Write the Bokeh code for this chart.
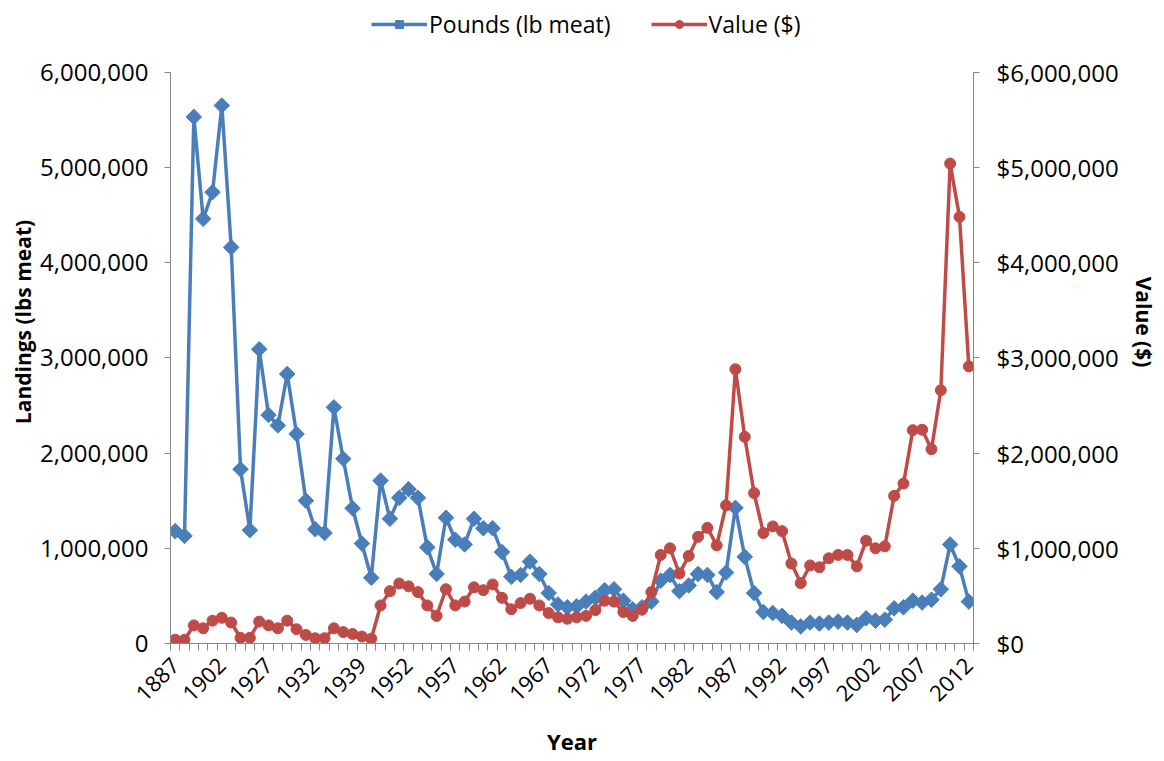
import math
from bokeh.plotting import figure
from bokeh.models import (Range1d, LinearAxis, FixedTicker, NumeralTickFormatter,
                          Legend, LegendItem, SingleIntervalTicker)
from bokeh.embed import file_html
from bokeh.resources import INLINE

years = [1887, 1888, 1889, 1890, 1897, 1902, 1904, 1908, 1919, 1924,
         1927, 1928, 1929, 1930, 1931, 1932, 1933, 1934, 1936, 1937,
         1939, 1940, 1945, 1950, 1951] + list(range(1952, 2013))

pounds = [1180000, 1130000, 5530000, 4460000, 4740000, 5650000, 4160000, 1830000, 1190000, 3090000,
          2400000, 2290000, 2830000, 2200000, 1500000, 1200000, 1160000, 2480000, 1940000, 1420000,
          1050000, 690000, 1710000, 1310000, 1530000, 1620000, 1530000, 1010000, 730000, 1320000,
          1090000, 1040000, 1310000, 1210000, 1210000, 960000, 700000, 720000, 860000, 730000,
          530000, 410000, 380000, 390000, 440000, 480000, 560000, 570000, 450000, 360000,
          380000, 440000, 660000, 720000, 550000, 610000, 730000, 720000, 540000, 745000,
          1425000, 910000, 530000, 330000, 320000, 290000, 220000, 180000, 220000, 210000,
          220000, 230000, 220000, 195000, 265000, 240000, 250000, 370000, 380000, 450000,
          430000, 460000, 570000, 1040000, 810000, 440000]

value = [40000, 40000, 190000, 160000, 240000, 270000, 220000, 60000, 60000, 230000,
         190000, 160000, 240000, 150000, 90000, 55000, 55000, 160000, 120000, 100000,
         73000, 50000, 400000, 550000, 630000, 600000, 540000, 400000, 290000, 570000,
         400000, 440000, 590000, 560000, 620000, 480000, 360000, 425000, 470000, 400000,
         320000, 275000, 260000, 275000, 290000, 350000, 450000, 440000, 330000, 290000,
         355000, 540000, 930000, 1000000, 735000, 920000, 1120000, 1215000, 1030000, 1450000,
         2880000, 2170000, 1580000, 1160000, 1230000, 1180000, 840000, 635000, 820000, 800000,
         895000, 930000, 930000, 810000, 1080000, 1000000, 1020000, 1550000, 1680000, 2240000,
         2245000, 2040000, 2660000, 5040000, 4480000, 2910000]

label_every = 5
y_max = 6000000
series_names = ["Pounds (lb meat)", "Value ($)"]
axis_titles = ["Year", "Landings (lbs meat)", "Value ($)"]

BLUE = "#4A7EBB"
RED = "#BE4B48"
GRAY = "#868686"
FONT = "Open Sans"

# frame spans the whole top area; the axes stop at y_max, the legend sits above
AXIS_PX = 574          # pixel height of 0..y_max
FRAME_PX = 646         # frame height incl. the legend strip
top = y_max * FRAME_PX / AXIS_PX

xs = list(range(len(years)))

p = figure(width=1160, height=759, output_backend="svg", toolbar_location=None,
           x_range=Range1d(-0.5, len(years) - 0.5), y_range=Range1d(0, top),
           min_border_left=170, min_border_right=187, min_border_top=0,
           min_border_bottom=759 - FRAME_PX, x_axis_type=None, y_axis_type=None)
p.outline_line_color = None
p.xgrid.visible = False
p.ygrid.visible = False
p.extra_y_ranges = {"value": Range1d(0, top)}

# x axis
xaxis = LinearAxis(
    ticker=FixedTicker(ticks=xs[::label_every],
                       minor_ticks=[i - 0.5 for i in range(len(years) + 1)]),
    major_label_overrides={i: str(years[i]) for i in xs[::label_every]},
    axis_label=axis_titles[0])
xaxis.major_label_orientation = math.pi / 4
xaxis.major_tick_out = 0
xaxis.major_tick_in = 0
xaxis.minor_tick_out = 7
xaxis.minor_tick_in = 0
xaxis.minor_tick_line_color = GRAY
xaxis.axis_line_color = GRAY
xaxis.major_label_standoff = 11
xaxis.major_label_text_font = FONT
xaxis.major_label_text_font_size = "22px"
xaxis.major_label_text_color = "#000000"
xaxis.axis_label_text_font = FONT
xaxis.axis_label_text_font_style = "bold"
xaxis.axis_label_text_font_size = "22px"
xaxis.axis_label_text_color = "#000000"
xaxis.axis_label_standoff = 15
p.add_layout(xaxis, "below")

def style_y(ax, fmt, title, lab_off, title_off):
    ax.ticker = SingleIntervalTicker(interval=1000000, num_minor_ticks=0)
    ax.formatter = NumeralTickFormatter(format=fmt)
    ax.bounds = (0, y_max)
    ax.axis_label = title
    ax.major_tick_out = 6
    ax.major_tick_in = 0
    ax.minor_tick_out = 0
    ax.minor_tick_in = 0
    ax.axis_line_color = GRAY
    ax.major_tick_line_color = GRAY
    ax.major_label_standoff = lab_off
    ax.major_label_text_font = FONT
    ax.major_label_text_font_size = "24px"
    ax.major_label_text_color = "#000000"
    ax.axis_label_text_font = FONT
    ax.axis_label_text_font_style = "bold"
    ax.axis_label_text_font_size = "21px"
    ax.axis_label_text_color = "#000000"
    ax.axis_label_standoff = title_off

yl = LinearAxis()
style_y(yl, "0,0", axis_titles[1], 16, 0)
p.add_layout(yl, "left")

yr = LinearAxis(y_range_name="value")
style_y(yr, "$0,0", axis_titles[2], 17, 8)
p.add_layout(yr, "right")

l1 = p.line(xs, pounds, line_color=BLUE, line_width=3.5)
s1 = p.scatter(xs, pounds, marker="square", angle=math.pi / 4, size=11,
               fill_color=BLUE, line_color=BLUE)
l2 = p.line(xs, value, line_color=RED, line_width=3.5, y_range_name="value")
s2 = p.scatter(xs, value, marker="circle", size=11, fill_color=RED, line_color=RED,
               y_range_name="value")

legend = Legend(items=[LegendItem(label=series_names[0], renderers=[l1, s1]),
                       LegendItem(label=series_names[1], renderers=[l2, s2])],
                orientation="horizontal", location=(201, FRAME_PX - 43))
legend.border_line_color = None
legend.background_fill_alpha = 0
legend.padding = 0
legend.margin = 0
legend.spacing = 40
legend.glyph_width = 56
legend.glyph_height = 20
legend.label_height = 20
legend.label_standoff = 2
legend.label_text_font = FONT
legend.label_text_font_size = "23px"
legend.label_text_color = "#000000"
p.add_layout(legend)

open("out.html", "w").write(file_html(p, INLINE))
